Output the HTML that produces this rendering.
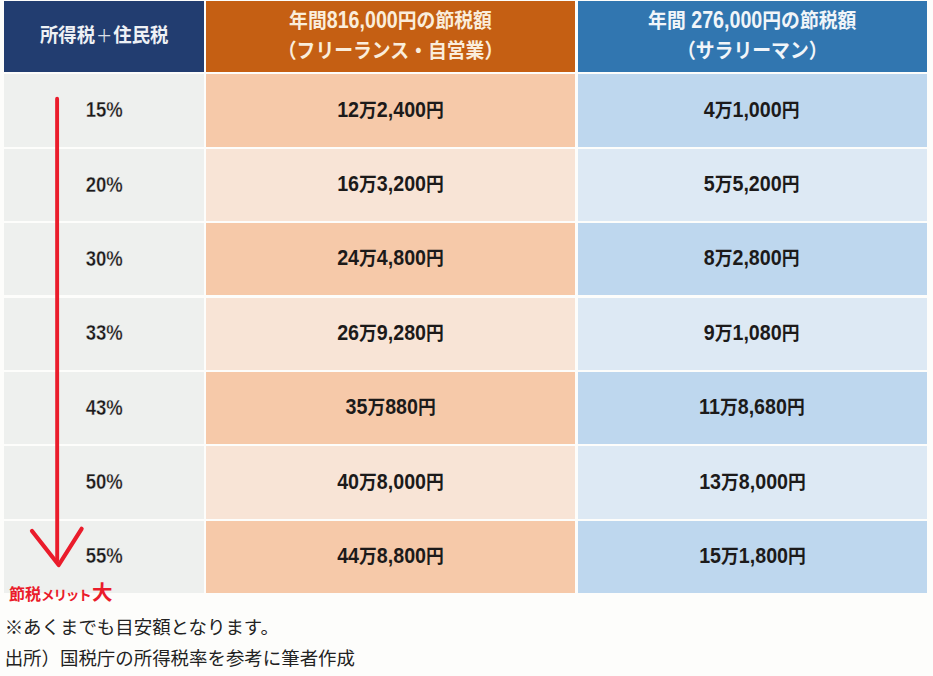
<!DOCTYPE html>
<html lang="ja"><head><meta charset="utf-8"><title>節税額の目安</title>
<style>
html,body{margin:0;padding:0}
body{width:933px;height:676px;position:relative;overflow:hidden;background:#fdfdfb;
  font-family:"Liberation Sans","Noto Sans CJK JP",sans-serif;color:#1c1a1a}
.k{font-size:19.2px}
.kw{font-size:20.3px}
.h1 .k{font-size:19.8px}
.kp{font-size:17.6px;font-weight:normal;margin:0 1.06px;opacity:.9}
.grid{position:absolute;left:4px;top:1px;display:grid;
  grid-template-columns:200.05px 369.1px 348.9px;
  grid-template-rows:71.1px repeat(6,72.3px) 71.8px;gap:2.15px 2.25px}
.c{display:flex;align-items:center;justify-content:center;text-align:center;
  font-weight:bold;font-size:21.2px;line-height:29.2px;white-space:nowrap}
.c>div{position:relative;top:-0.7px;transform:scaleX(.928)}
.g>div{transform:scaleX(.875);-webkit-text-stroke:0.3px #eef0ee}
.h>div{top:-0.6px}
.n{display:inline-block;transform:scaleY(1.09);transform-origin:50% 75.2%}
.h1>div{top:-1.1px}
.h{color:#f6f3ec}
.h1{background:#223d70;color:#eef1f5} .h2{background:#c55f13;color:#faeddb} .h3{background:#3176b0;color:#f1f5f9}
.g{--bg:#eef0ee} .o1{--bg:#f6c9a9} .o2{--bg:#f8e4d6} .b1{--bg:#bed7ee} .b2{--bg:#dde9f4}
.g,.o1,.o2,.b1,.b2{background:var(--bg)}
.arrow{position:absolute;left:0;top:0;width:933px;height:676px;pointer-events:none}
.label{position:absolute;left:9.1px;top:581px;color:#ea1c2b;white-space:nowrap;line-height:24px;font-size:0;font-weight:bold}
.l1{font-size:16px}
.l2{font-size:13.6px;letter-spacing:-1.3px}
.l3{font-size:20.5px;margin-left:1.7px}
.foot{position:absolute;left:4.3px;color:#222222;white-space:nowrap;margin:0;font-size:18.45px;line-height:24px;font-weight:normal}
.f1{top:615.6px;left:4.7px} .f2{top:646.9px;left:4.7px}
</style></head><body>
<div class="grid" role="table">
<div class="c h h1"><div><span class="k">所得税</span><span class="kp">＋</span><span class="k">住民税</span></div></div>
<div class="c h h2"><div><span class="kw">年間</span><span class="n">816,000</span><span class="kw">円の節税額</span><br><span class="kw">（フリーランス・自営業）</span></div></div>
<div class="c h h3"><div><span class="kw">年間</span> <span class="n">276,000</span><span class="kw">円の節税額</span><br><span class="kw">（サラリーマン）</span></div></div>
<div class="c g"><div>15%</div></div><div class="c o1"><div>12<span class="k">万</span>2,400<span class="k">円</span></div></div><div class="c b1"><div>4<span class="k">万</span>1,000<span class="k">円</span></div></div>
<div class="c g"><div>20%</div></div><div class="c o2"><div>16<span class="k">万</span>3,200<span class="k">円</span></div></div><div class="c b2"><div>5<span class="k">万</span>5,200<span class="k">円</span></div></div>
<div class="c g"><div>30%</div></div><div class="c o1"><div>24<span class="k">万</span>4,800<span class="k">円</span></div></div><div class="c b1"><div>8<span class="k">万</span>2,800<span class="k">円</span></div></div>
<div class="c g"><div>33%</div></div><div class="c o2"><div>26<span class="k">万</span>9,280<span class="k">円</span></div></div><div class="c b2"><div>9<span class="k">万</span>1,080<span class="k">円</span></div></div>
<div class="c g"><div>43%</div></div><div class="c o1"><div>35<span class="k">万</span>880<span class="k">円</span></div></div><div class="c b1"><div>11<span class="k">万</span>8,680<span class="k">円</span></div></div>
<div class="c g"><div>50%</div></div><div class="c o2"><div>40<span class="k">万</span>8,000<span class="k">円</span></div></div><div class="c b2"><div>13<span class="k">万</span>8,000<span class="k">円</span></div></div>
<div class="c g"><div>55%</div></div><div class="c o1"><div>44<span class="k">万</span>8,800<span class="k">円</span></div></div><div class="c b1"><div>15<span class="k">万</span>1,800<span class="k">円</span></div></div>
</div>
<svg class="arrow" viewBox="0 0 933 676" aria-hidden="true">
<g fill="none" stroke="#ea1c2b" stroke-linecap="round" stroke-linejoin="round">
<path d="M57.1 98.8 L57.2 560" stroke-width="3.9"/>
<path d="M32 531 L58.7 565 L81.6 528.8" stroke-width="4.2"/>
</g></svg>
<div class="label"><span class="l1">節税</span><span class="l2">メリット</span><span class="l3">大</span></div>
<p class="foot f1">※あくまでも目安額となります。</p>
<p class="foot f2">出所）国税庁の所得税率を参考に筆者作成</p>
</body></html>
